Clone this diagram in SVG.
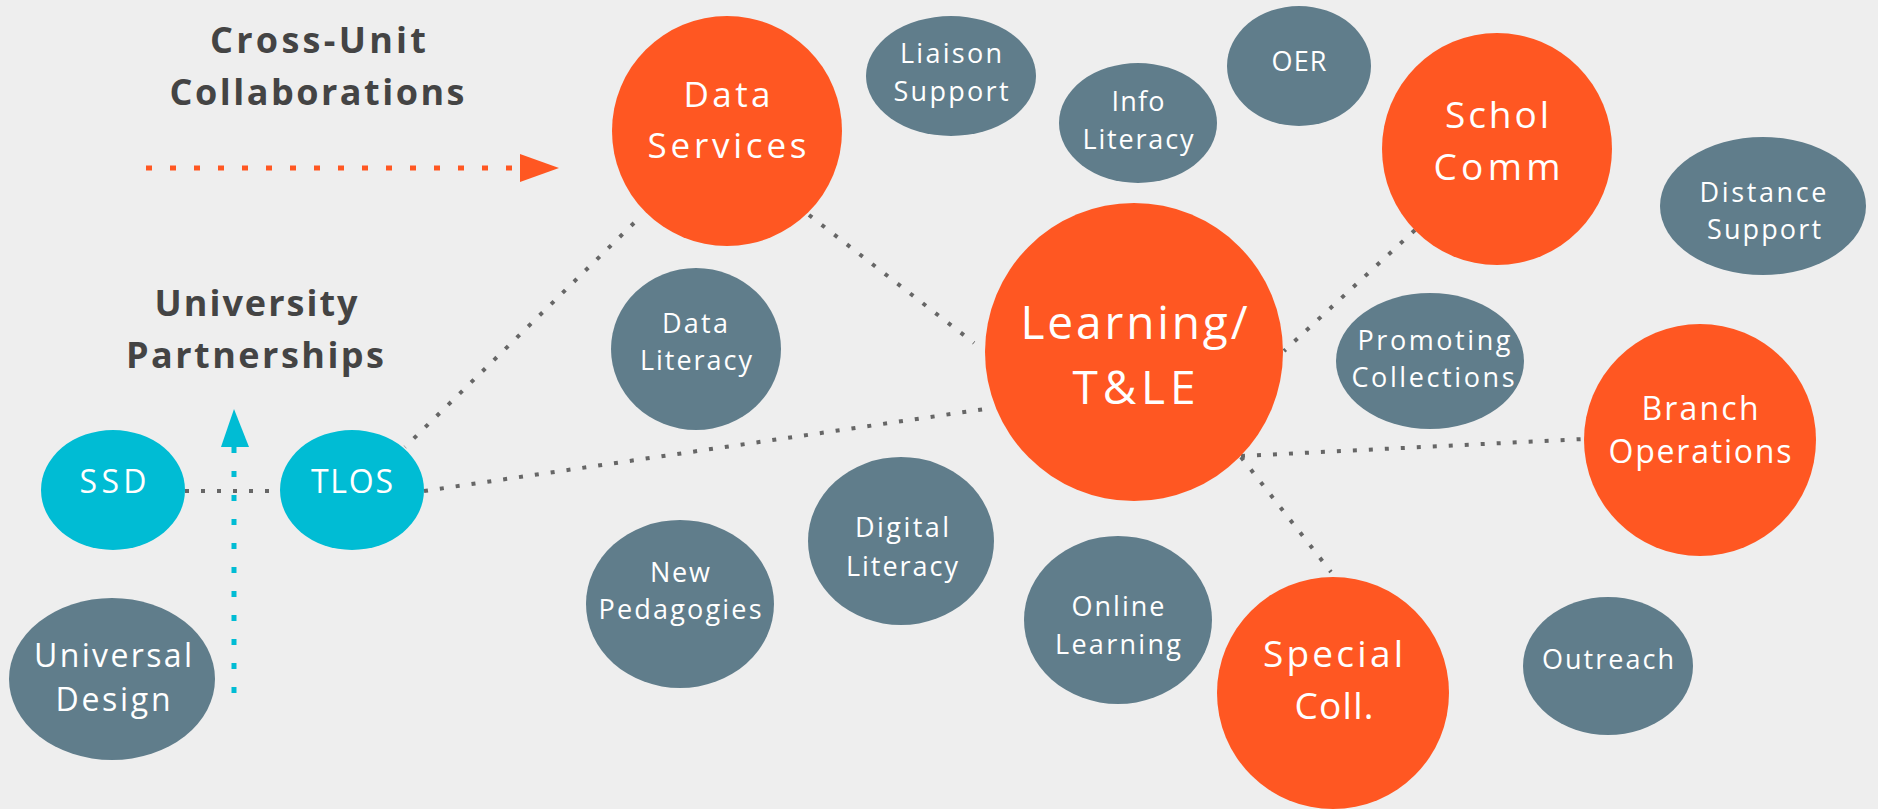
<svg xmlns="http://www.w3.org/2000/svg" width="1878" height="809" viewBox="0 0 1878 809">
<style>
.bg{fill:#EEEEEE}
.org{fill:#FF5722}
.sl{fill:#607D8B}
.cy{fill:#00BCD4}
.t{font-family:"Open Sans","Noto Sans","Liberation Sans",sans-serif;fill:#FFFFFF;text-anchor:middle;lengthAdjust:spacing}
.h{font-family:"Open Sans","Noto Sans","Liberation Sans",sans-serif;fill:#444444;font-weight:700;font-size:36px;text-anchor:middle}
.s27{font-size:27px}
.s32{font-size:32px}
.s35{font-size:35px}
.s37{font-size:37px}
.s46{font-size:46px}
.gl{stroke:#666666;stroke-width:4;stroke-dasharray:4 12;fill:none}
</style>
<rect class="bg" x="0" y="0" width="1878" height="809"/>

<g id="legend">
  <text class="h" x="318" y="53" textLength="216" lengthAdjust="spacing">Cross-Unit</text>
  <text class="h" x="317" y="105" textLength="295" lengthAdjust="spacing">Collaborations</text>
  <line x1="146" y1="168" x2="513" y2="168" stroke="#FF5722" stroke-width="5" stroke-dasharray="6 18"/>
  <polygon points="520,154 559,168 520,182" fill="#FF5722"/>
  <text class="h" x="256" y="316" textLength="203" lengthAdjust="spacing">University</text>
  <text class="h" x="255" y="368" textLength="258" lengthAdjust="spacing">Partnerships</text>
  <line x1="234" y1="447" x2="234" y2="695" stroke="#00BCD4" stroke-width="5" stroke-dasharray="6 18"/>
  <polygon points="221,447 249,447 234,409" fill="#00BCD4"/>
</g>

<g id="connectors">
  <line class="gl" x1="634" y1="223" x2="405" y2="447"/>
  <line class="gl" x1="809" y1="215" x2="974" y2="343"/>
  <line class="gl" x1="1415" y1="230" x2="1284" y2="351"/>
  <line class="gl" x1="424" y1="491" x2="985" y2="409"/>
  <line class="gl" x1="185" y1="491" x2="281" y2="491"/>
  <line class="gl" x1="1241" y1="456" x2="1584" y2="439"/>
  <line class="gl" x1="1241" y1="457" x2="1331" y2="572"/>
</g>

<g id="data-services">
  <circle class="org" cx="727" cy="131" r="115"/>
  <text class="t s35" x="727" y="107" textLength="87" lengthAdjust="spacing">Data</text>
  <text class="t s35" x="727" y="158" textLength="159" lengthAdjust="spacing">Services</text>
</g>
<g id="liaison-support">
  <ellipse class="sl" cx="951" cy="76" rx="85" ry="60"/>
  <text class="t s27" x="951" y="63" textLength="102" lengthAdjust="spacing">Liaison</text>
  <text class="t s27" x="951" y="101" textLength="115" lengthAdjust="spacing">Support</text>
</g>
<g id="info-literacy">
  <ellipse class="sl" cx="1138" cy="123" rx="79" ry="60"/>
  <text class="t s27" x="1138" y="111" textLength="53" lengthAdjust="spacing">Info</text>
  <text class="t s27" x="1138" y="149" textLength="111" lengthAdjust="spacing">Literacy</text>
</g>
<g id="oer">
  <ellipse class="sl" cx="1299" cy="66" rx="72" ry="60"/>
  <text class="t s27" x="1299" y="71" textLength="55" lengthAdjust="spacing">OER</text>
</g>
<g id="schol-comm">
  <ellipse class="org" cx="1497" cy="149" rx="115" ry="116"/>
  <text class="t s37" x="1497" y="128" textLength="104" lengthAdjust="spacing">Schol</text>
  <text class="t s37" x="1497" y="180" textLength="127" lengthAdjust="spacing">Comm</text>
</g>
<g id="distance-support">
  <ellipse class="sl" cx="1763" cy="206" rx="103" ry="69"/>
  <text class="t s27" x="1763" y="202" textLength="127" lengthAdjust="spacing">Distance</text>
  <text class="t s27" x="1764" y="239" textLength="114" lengthAdjust="spacing">Support</text>
</g>
<g id="learning-tle">
  <circle class="org" cx="1134" cy="352" r="149"/>
  <text class="t s46" x="1134" y="339" textLength="227" lengthAdjust="spacing">Learning/</text>
  <text class="t s46" x="1134" y="404" textLength="123" lengthAdjust="spacing">T&amp;LE</text>
</g>
<g id="promoting-collections">
  <ellipse class="sl" cx="1430" cy="361" rx="94" ry="68"/>
  <text class="t s27" x="1434" y="350" textLength="153" lengthAdjust="spacing">Promoting</text>
  <text class="t s27" x="1433" y="387" textLength="163" lengthAdjust="spacing">Collections</text>
</g>
<g id="data-literacy">
  <ellipse class="sl" cx="696" cy="349" rx="85" ry="81"/>
  <text class="t s27" x="695" y="333" textLength="66" lengthAdjust="spacing">Data</text>
  <text class="t s27" x="696" y="370" textLength="112" lengthAdjust="spacing">Literacy</text>
</g>
<g id="ssd">
  <ellipse class="cy" cx="113" cy="490" rx="72" ry="60"/>
  <text class="t s32" x="113" y="493" textLength="67" lengthAdjust="spacing">SSD</text>
</g>
<g id="tlos">
  <ellipse class="cy" cx="352" cy="490" rx="72" ry="60"/>
  <text class="t s32" x="352" y="493" textLength="82" lengthAdjust="spacing">TLOS</text>
</g>
<g id="universal-design">
  <ellipse class="sl" cx="112" cy="679" rx="103" ry="81"/>
  <text class="t s32" x="113" y="667" textLength="158" lengthAdjust="spacing">Universal</text>
  <text class="t s32" x="113" y="711" textLength="115" lengthAdjust="spacing">Design</text>
</g>
<g id="new-pedagogies">
  <ellipse class="sl" cx="680" cy="604" rx="94" ry="84"/>
  <text class="t s27" x="680" y="582" textLength="60" lengthAdjust="spacing">New</text>
  <text class="t s27" x="680" y="619" textLength="163" lengthAdjust="spacing">Pedagogies</text>
</g>
<g id="digital-literacy">
  <ellipse class="sl" cx="901" cy="541" rx="93" ry="84"/>
  <text class="t s27" x="902" y="537" textLength="94" lengthAdjust="spacing">Digital</text>
  <text class="t s27" x="902" y="576" textLength="112" lengthAdjust="spacing">Literacy</text>
</g>
<g id="online-learning">
  <ellipse class="sl" cx="1118" cy="620" rx="94" ry="84"/>
  <text class="t s27" x="1118" y="616" textLength="93" lengthAdjust="spacing">Online</text>
  <text class="t s27" x="1118" y="654" textLength="126" lengthAdjust="spacing">Learning</text>
</g>
<g id="special-coll">
  <circle class="org" cx="1333" cy="693" r="116"/>
  <text class="t s37" x="1333" y="667" textLength="140" lengthAdjust="spacing">Special</text>
  <text class="t s37" x="1334" y="719" textLength="79" lengthAdjust="spacing">Coll.</text>
</g>
<g id="outreach">
  <ellipse class="sl" cx="1608" cy="666" rx="85" ry="69"/>
  <text class="t s27" x="1608" y="669" textLength="132" lengthAdjust="spacing">Outreach</text>
</g>
<g id="branch-operations">
  <circle class="org" cx="1700" cy="440" r="116"/>
  <text class="t s32" x="1700" y="420" textLength="117" lengthAdjust="spacing">Branch</text>
  <text class="t s32" x="1700" y="463" textLength="183" lengthAdjust="spacing">Operations</text>
</g>
</svg>
